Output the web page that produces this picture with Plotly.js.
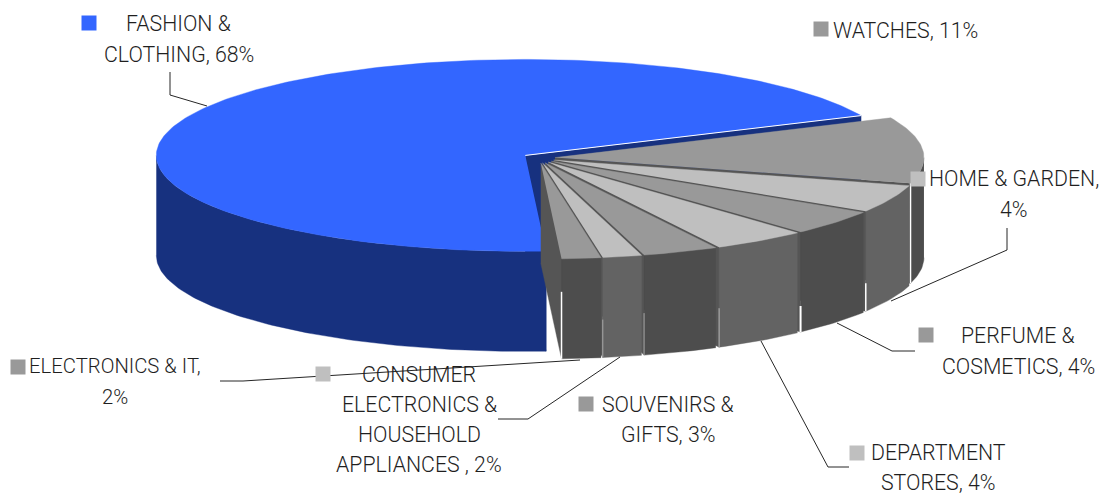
<!DOCTYPE html>
<html><head><meta charset="utf-8">
<script src="https://cdn.plot.ly/plotly-3.0.1.min.js"></script>
<style>html,body{margin:0;padding:0;background:#fff}#c{width:1103px;height:496px}</style>
</head><body><div id="c"></div>
<script>
// ---- data (slice sizes estimated from the drawn angles; labels are rounded) ----
const categories = ["FASHION & CLOTHING","WATCHES","HOME & GARDEN","PERFUME & COSMETICS","DEPARTMENT STORES","SOUVENIRS & GIFTS","CONSUMER ELECTRONICS & HOUSEHOLD APPLIANCES","ELECTRONICS & IT"];
const values = [68.4,11,4.6,4.2,4.1,3.3,1.7,1.7];
const topColors = ["#3366ff","#999999","#bfbfbf","#999999","#bfbfbf","#999999","#bfbfbf","#999999"];
const wallColors = ["#17317f","#4d4d4d","#636363","#4d4d4d","#636363","#4d4d4d","#636363","#4d4d4d"];
const labelLines = [["FASHION &","CLOTHING, 68%"],["WATCHES, 11%"],["HOME & GARDEN,","4%"],["PERFUME &","COSMETICS, 4%"],["DEPARTMENT","STORES, 4%"],["SOUVENIRS &","GIFTS, 3%"],["CONSUMER","ELECTRONICS &","HOUSEHOLD","APPLIANCES , 2%"],["ELECTRONICS & IT,","2%"]];

// ---- layout of the drawing (pixels) ----
const labelPos = [[178.5,23],[905,30],[1014,178],[1018,335],[938,452],[668,404],[419,374],[115,366]];
const lineGap = [31,0,31,31,30,30,30,31];
const labelSize = [21.3,21.3,21.3,21.3,21.3,21.3,21.3,20.3];
const keyPos = [[89,23],[821,29],[918,179],[926,335],[857,453],[586,404],[323,374],[18,367]];
const leaders = [
 [[170,72],[170,95],[207,106]],
 [[1007,228],[1007,250],[891,301]],
 [[837,323],[892,351],[915,351]],
 [[761,341],[828,467],[849,467]],
 [[498,419],[528,419],[620,357]],
 [[220,381],[243,381],[580,360]]
];
// seams on the outer wall at each slice's clockwise edge: fraction of depth where it starts, colour, width
const seamFrom = [0,0.72,0.74,0.61,0.58,0.62,0.33];
const seamColor = ["#ffffff","#ffffff","#ffffff","#b5b5b5","#a8a8a8","#a8a8a8","#ffffff"];
const seamWidth = [1.5,1.5,2,1,1,1,1.5];
const C=[539,158], RX=369, RY=96, DEPTH=100, EXPX=16, EXPY=5, START=24.5;

const total = values.reduce((a,b)=>a+b,0);
const rad = d=>d*Math.PI/180;
const pt = (c,a,h)=>[c[0]+RX*Math.cos(rad(a)), c[1]-RY*Math.sin(rad(a))+(h||0)];
const traces=[];
function poly(pts,color){
  traces.push({type:"scatter",mode:"lines",x:pts.map(p=>p[0]),y:pts.map(p=>p[1]),fill:"toself",fillcolor:color,
    line:{width:0.4,color:color},hoverinfo:"skip",showlegend:false});
}
function seg(p,q,color,w){traces.push({type:"scatter",mode:"lines",x:[p[0],q[0]],y:[p[1],q[1]],line:{color:color,width:w},hoverinfo:"skip",showlegend:false});}
function arc(c,a0,a1,h){
  const n=Math.max(2,Math.ceil(Math.abs(a1-a0)));const o=[];
  for(let i=0;i<=n;i++)o.push(pt(c,a0+(a1-a0)*i/n,h));
  return o;
}
function centre(mid){return [C[0]+EXPX*Math.cos(rad(mid)),C[1]-EXPY*Math.sin(rad(mid))];}
function cut(c,a,col){const r=pt(c,a,0),b=pt(c,a,DEPTH);poly([c,r,b,[c[0],c[1]+DEPTH]],col);}
function wall(c,a0,a1,col){poly(arc(c,a0,a1,0).concat(arc(c,a1,a0,DEPTH)),col);}

// blue slice runs counter-clockwise from START
const blueSpan = values[0]/total*360;
const bc = centre(START+blueSpan/2);
cut(bc,START,wallColors[0]);
cut(bc,START+blueSpan,wallColors[0]);
wall(bc,180,START+blueSpan,wallColors[0]);
poly([bc].concat(arc(bc,START,START+blueSpan,0)),topColors[0]);
seg(bc,pt(bc,START,0),"#ffffff",1);

// remaining slices run clockwise, back to front
let a=START;
for(let i=1;i<values.length;i++){
  const span=values[i]/total*360, lo=a-span, c=centre(a-span/2);
  cut(c,lo,"#555555");
  wall(c,Math.min(a,0),lo,wallColors[i]);
  poly([c].concat(arc(c,a,lo,0)),topColors[i]);
  seg(pt(c,lo,DEPTH*seamFrom[i-1]),pt(c,lo,DEPTH),seamColor[i-1],seamWidth[i-1]);
  a=lo;
}
// leader lines
leaders.forEach(l=>traces.push({type:"scatter",mode:"lines",x:l.map(p=>p[0]),y:l.map(p=>p[1]),line:{color:"#262626",width:1},hoverinfo:"skip",showlegend:false}));
// legend keys
traces.push({type:"scatter",mode:"markers",x:keyPos.map(p=>p[0]),y:keyPos.map(p=>p[1]),text:categories,
  marker:{symbol:"square",size:15,color:topColors,line:{width:0}},hoverinfo:"text",showlegend:false});

const annotations=[];
labelLines.forEach((lines,i)=>lines.forEach((t,j)=>annotations.push({x:labelPos[i][0],y:labelPos[i][1]+j*lineGap[i],xref:"x",yref:"y",
  text:t,showarrow:false,xanchor:"center",yanchor:"middle",font:{family:"Roboto",size:labelSize[i],color:"#1f1f1f",weight:300}})));

Plotly.newPlot("c",traces,{width:1103,height:496,margin:{l:0,r:0,t:0,b:0},paper_bgcolor:"#fff",plot_bgcolor:"#fff",
  xaxis:{range:[0,1103],visible:false,fixedrange:true},yaxis:{range:[496,0],visible:false,fixedrange:true},annotations:annotations,showlegend:false},{displayModeBar:false,staticPlot:true});
</script></body></html>
